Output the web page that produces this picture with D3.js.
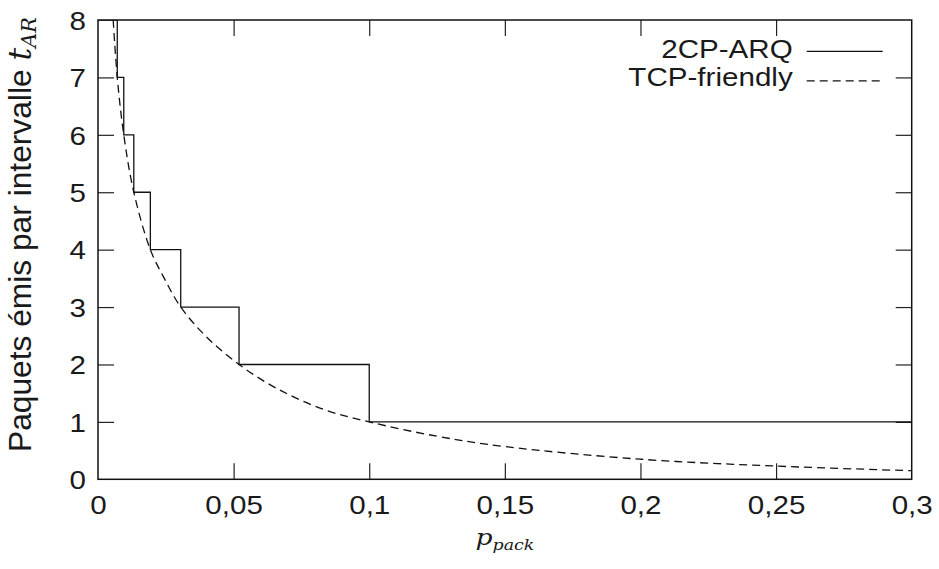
<!DOCTYPE html>
<html>
<head>
<meta charset="utf-8">
<script src="https://d3js.org/d3.v7.min.js"></script>
<style>
	body { margin: 0; background: #fff; }
	svg { display: block; }
	.tick text { font-family: "Liberation Sans", Arial, sans-serif; font-size: 25.5px; fill: #1a1a1a; }
	.lbl { font-family: "Liberation Sans", Arial, sans-serif; font-size: 25.5px; fill: #1a1a1a; }
	.math { font-family: "DejaVu Serif", "Liberation Serif", serif; font-style: italic; fill: #1a1a1a; }
</style>
</head>
<body>
<div class="chart"></div>
<script>
// 2CP-ARQ step function (p where step starts, packets)
var stepP = [0, 0.0071, 0.0095, 0.0132, 0.0193, 0.0305, 0.052, 0.1, 0.3];
var stepN = [8, 7, 6, 5, 4, 3, 2, 1, 1];

// TCP-friendly curve
var tcpP = [0.0056, 0.0071, 0.0095, 0.0132, 0.0193, 0.0241, 0.0305, 0.040, 0.052, 0.066, 0.083, 0.1, 0.125, 0.15, 0.2, 0.25, 0.3];
var tcpN = [8, 7, 6, 5, 4, 3.53, 3, 2.48, 2, 1.58, 1.22, 1, 0.75, 0.57, 0.35, 0.23, 0.15];

var xTicks = [0, 0.05, 0.1, 0.15, 0.2, 0.25, 0.3];
var xTickLabels = ["0", "0,05", "0,1", "0,15", "0,2", "0,25", "0,3"];
var yTicks = [0, 1, 2, 3, 4, 5, 6, 7, 8];
var legendNames = ["2CP-ARQ", "TCP-friendly"];

var W = 939, H = 569;
var m = {left: 98, top: 20, right: 27.3, bottom: 89.7};
var w = W - m.left - m.right, h = H - m.top - m.bottom;
var sx = 1.16; // the text in the picture is a bit wider than tall

var svg = d3.select(".chart").append("svg")
	.attr("width", W)
	.attr("height", H);

var g = svg.append("g").attr("transform", "translate(" + m.left + "," + m.top + ")");

var x = d3.scaleLinear().domain([0, 0.3]).range([0, w]);
var y = d3.scaleLinear().domain([0, 8]).range([h, 0]);

g.append("clipPath").attr("id", "clip")
	.append("rect").attr("width", w).attr("height", h);

function styleAxis(sel) {
	sel.select(".domain").remove();
	sel.selectAll(".tick line").attr("stroke", "#222").attr("stroke-width", 1.2);
}

// bottom / left with labels, ticks pointing inward
var xa = g.append("g").attr("transform", "translate(0," + h + ")")
	.call(d3.axisBottom(x).tickValues(xTicks).tickSizeInner(-16).tickSizeOuter(0)
		.tickFormat(function(d, i){ return xTickLabels[i]; }))
	.call(styleAxis);
xa.selectAll(".tick text").attr("y", 35).attr("dy", null).attr("transform", "scale(" + sx + ",1)");
xa.selectAll(".tick").filter(function(d){ return d === 0 || d === 0.3; }).select("line").remove();

var ya = g.append("g")
	.call(d3.axisLeft(y).tickValues(yTicks).tickSizeInner(-16).tickSizeOuter(0))
	.call(styleAxis);
ya.selectAll(".tick text").attr("x", -12 / sx).attr("dy", "0.36em").attr("transform", "scale(" + sx + ",1)");
ya.selectAll(".tick").filter(function(d){ return d === 0 || d === 8; }).select("line").remove();

// mirrored ticks on top / right
g.append("g")
	.call(d3.axisTop(x).tickValues(xTicks.slice(1, -1)).tickSizeInner(-16).tickSizeOuter(0).tickFormat(""))
	.call(styleAxis);
g.append("g").attr("transform", "translate(" + w + ",0)")
	.call(d3.axisRight(y).tickValues(yTicks.slice(1, -1)).tickSizeInner(-16).tickSizeOuter(0).tickFormat(""))
	.call(styleAxis);

var stepLine = d3.line()
	.x(function(d){ return x(d[0]); })
	.y(function(d){ return y(d[1]); })
	.curve(d3.curveStepAfter);

var tcpLine = d3.line()
	.x(function(d){ return x(d[0]); })
	.y(function(d){ return y(d[1]); })
	.curve(d3.curveCatmullRom.alpha(0.5));

var plot = g.append("g").attr("clip-path", "url(#clip)");

plot.append("path")
	.attr("d", stepLine(d3.zip(stepP, stepN)))
	.attr("fill", "none")
	.attr("stroke", "#111")
	.attr("stroke-width", 1.3);

plot.append("path")
	.attr("d", tcpLine(d3.zip(tcpP, tcpN)))
	.attr("fill", "none")
	.attr("stroke", "#111")
	.attr("stroke-width", 1.3)
	.attr("stroke-dasharray", "8,5");

// frame
g.append("rect")
	.attr("width", w).attr("height", h)
	.attr("fill", "none")
	.attr("stroke", "#111")
	.attr("stroke-width", 1.5);

// legend
var leg = g.selectAll(".leg").data(legendNames).enter().append("g")
	.attr("class", "leg");

leg.append("text")
	.attr("class", "lbl")
	.attr("transform", function(d, i){ return "translate(694.7," + (38.3 + i * 27.7) + ") scale(" + sx + ",1)"; })
	.attr("text-anchor", "end")
	.text(function(d){ return d; });

leg.append("line")
	.attr("x1", 708.7).attr("x2", 784.7)
	.attr("y1", function(d, i){ return 31.3 + i * 29.5; })
	.attr("y2", function(d, i){ return 31.3 + i * 29.5; })
	.attr("stroke", "#111")
	.attr("stroke-width", 1.3)
	.attr("stroke-dasharray", function(d, i){ return i ? "8,5" : null; });

// axis titles
var xt = svg.append("text")
	.attr("class", "math")
	.attr("transform", "translate(" + (m.left + w / 2) + ",545) scale(" + sx + ",1)")
	.attr("text-anchor", "middle")
	.style("font-size", "23px");
xt.append("tspan").text("p");
xt.append("tspan").attr("dy", 5).style("font-size", "15px").text("pack");

// y title: fit it between y=452 (start) and y=17 (end)
var yFont = 27.5, ySub = 18;
var yt = svg.append("text")
	.attr("class", "lbl")
	.style("font-size", yFont + "px")
	.attr("transform", "translate(31,452) rotate(-90)");
yt.append("tspan").text("Paquets émis par intervalle ");
yt.append("tspan").attr("class", "math").text("t");
var sub = yt.append("tspan").attr("class", "math").attr("dy", 5).style("font-size", ySub + "px").text("AR");
var k = 435 / yt.node().getBBox().width;
yt.style("font-size", (yFont * k) + "px");
sub.style("font-size", (ySub * k) + "px");
</script>
</body>
</html>
